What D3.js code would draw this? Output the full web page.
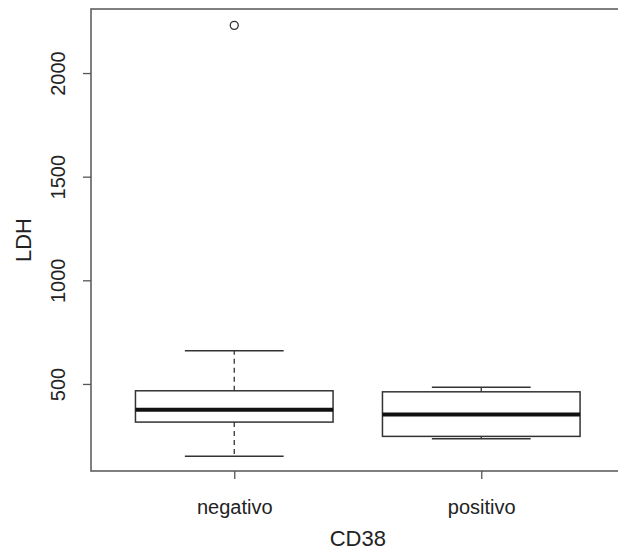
<!DOCTYPE html>
<html>
<head>
<meta charset="utf-8">
<script src="https://cdn.jsdelivr.net/npm/d3@7"></script>
<style>
  html, body { margin: 0; padding: 0; background: #fff; overflow: hidden; }
  svg { display: block; }
  text { font-family: "Liberation Sans", Arial, sans-serif; fill: #222; }
</style>
</head>
<body>
<svg id="chart" width="618" height="550"></svg>
<script>
// LDH by CD38 group
const groups = ['negativo', 'positivo'];
const lowWhisker = [151, 236];
const q1 = [316, 247];
const median = [375, 352];
const q3 = [467, 462];
const highWhisker = [660, 484];
const outliers = [[2230], []];
const yTicks = [500, 1000, 1500, 2000];

const svg = d3.select('#chart');
const W = 618, H = 550;
const plot = { left: 91, top: 9, bottom: 471 };
const font = '"Liberation Sans", Arial, sans-serif';

// R style: x positions 1..n, xlim 0.5..n+0.5 extended by 4%
let x = d3.scaleLinear().domain([0.42, 2.58]).range([plot.left, plot.left + 2.16 * 247]);
let y = d3.scaleLinear().domain([80, 2309]).range([plot.bottom, plot.top]);

// frame (right side runs off the canvas)
svg.append('path')
  .attr('d', `M${W + 10},${plot.top}H${plot.left}V${plot.bottom}H${W + 10}`)
  .attr('fill', 'none').attr('stroke', '#555').attr('stroke-width', 1.5);

// y axis
let yAxis = svg.append('g').attr('transform', `translate(${plot.left},0)`)
  .call(d3.axisLeft(y).tickValues(yTicks).tickSize(8).tickFormat(d3.format('d')));
yAxis.select('.domain').remove();
yAxis.selectAll('line').attr('stroke', '#555').attr('stroke-width', 1.3);
yAxis.selectAll('text')
  .attr('x', 0).attr('y', 0).attr('dy', null)
  .attr('transform', 'translate(-26,0) rotate(-90)')
  .attr('text-anchor', 'middle')
  .style('font-size', '20px').style('font-family', font)
  .attr('fill', '#222');

// x axis
let xAxis = svg.append('g').attr('transform', `translate(0,${plot.bottom})`)
  .call(d3.axisBottom(x).tickValues([1, 2]).tickSize(8).tickFormat(d => groups[d - 1]));
xAxis.select('.domain').remove();
xAxis.selectAll('line').attr('stroke', '#555').attr('stroke-width', 1.3);
xAxis.selectAll('text')
  .attr('y', 43).attr('dy', null)
  .style('font-size', '20px').style('font-family', font)
  .attr('fill', '#222');

// axis titles
svg.append('text').attr('x', x(1.5)).attr('y', 546)
  .attr('text-anchor', 'middle').style('font-size', '22px').text('CD38');
svg.append('text').attr('transform', `translate(31,240) rotate(-90)`)
  .attr('text-anchor', 'middle').style('font-size', '22px').text('LDH');

// boxes
const boxHalf = 0.4 * 247;
const capHalf = boxHalf / 2;
groups.forEach((g, i) => {
  let cx = x(i + 1);
  let gEl = svg.append('g');
  // whiskers
  gEl.append('line').attr('x1', cx).attr('x2', cx)
    .attr('y1', y(q3[i])).attr('y2', y(highWhisker[i]))
    .attr('stroke', '#333').attr('stroke-width', 1.3).attr('stroke-dasharray', '5,4');
  gEl.append('line').attr('x1', cx).attr('x2', cx)
    .attr('y1', y(q1[i])).attr('y2', y(lowWhisker[i]))
    .attr('stroke', '#333').attr('stroke-width', 1.3).attr('stroke-dasharray', '5,4');
  // caps
  [highWhisker[i], lowWhisker[i]].forEach(v => {
    gEl.append('line').attr('x1', cx - capHalf).attr('x2', cx + capHalf)
      .attr('y1', y(v)).attr('y2', y(v))
      .attr('stroke', '#333').attr('stroke-width', 1.5);
  });
  // box
  gEl.append('rect')
    .attr('x', cx - boxHalf).attr('width', 2 * boxHalf)
    .attr('y', y(q3[i])).attr('height', y(q1[i]) - y(q3[i]))
    .attr('fill', 'none').attr('stroke', '#333').attr('stroke-width', 1.5);
  // median
  gEl.append('line').attr('x1', cx - boxHalf).attr('x2', cx + boxHalf)
    .attr('y1', y(median[i])).attr('y2', y(median[i]))
    .attr('stroke', '#111').attr('stroke-width', 4);
  // outliers
  outliers[i].forEach(v => {
    gEl.append('circle').attr('cx', cx).attr('cy', y(v)).attr('r', 4)
      .attr('fill', 'none').attr('stroke', '#333').attr('stroke-width', 1.3);
  });
});
</script>
</body>
</html>
